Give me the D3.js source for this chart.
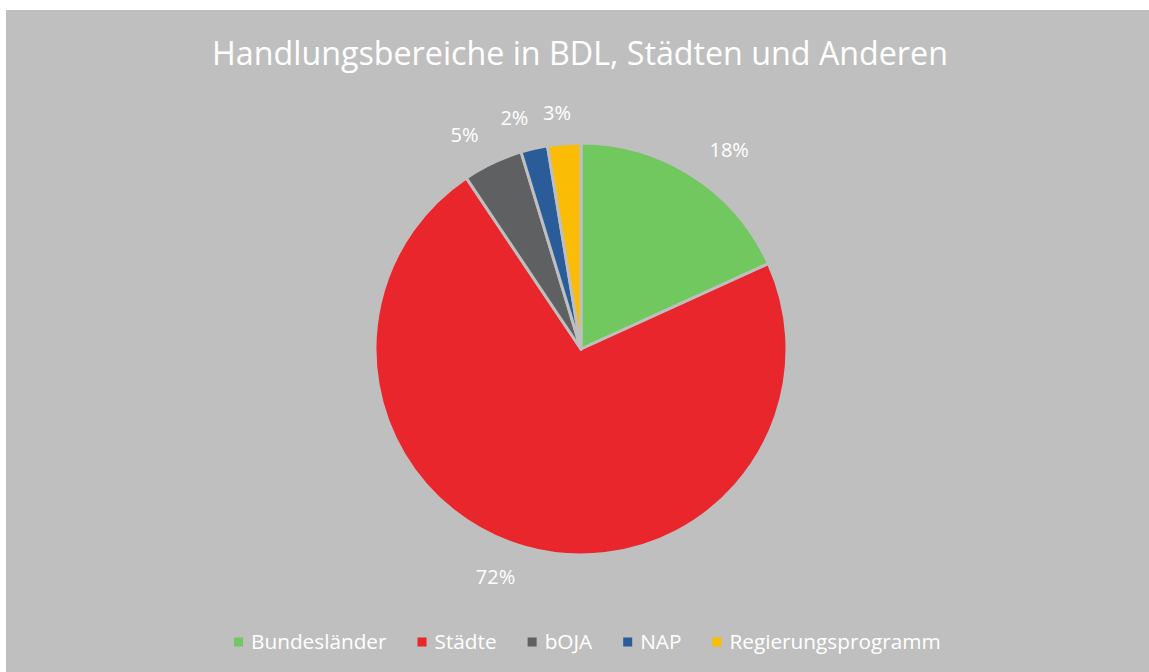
<!DOCTYPE html>
<html>
<head>
<meta charset="utf-8">
<script src="https://cdn.jsdelivr.net/npm/d3@7"></script>
<style>
  html, body { margin: 0; padding: 0; background: #ffffff; }
  svg { display: block; }
  text { font-family: "Open Sans", "Noto Sans", sans-serif; fill: #ffffff; }
</style>
</head>
<body>
<svg id="chart" width="1149" height="672"></svg>
<script>
// Data
const title = 'Handlungsbereiche in BDL, Städten und Anderen'
const categories = ['Bundesländer', 'Städte', 'bOJA', 'NAP', 'Regierungsprogramm']
const values = [18.2, 72.4, 4.7, 2.1, 2.6]
const labels = ['18%', '72%', '5%', '2%', '3%']
const colors = ['#70c85e', '#e8262c', '#5f6062', '#2a5c99', '#fbbc05']

const svg = d3.select('#chart')
const width = 1149
const height = 672
const bg = '#bfbfbf'

svg.append('rect')
    .attr('x', 6).attr('y', 10)
    .attr('width', width - 6).attr('height', height - 10)
    .attr('fill', bg)

// fit a text node to a target width by adjusting font-size
const fitText = (sel, targetWidth) => {
    const w = sel.node().getComputedTextLength()
    const fs = parseFloat(sel.attr('font-size'))
    sel.attr('font-size', fs * targetWidth / w)
}

// Title
const titleText = svg.append('text')
    .attr('x', 580).attr('y', 65)
    .attr('text-anchor', 'middle')
    .attr('font-size', 32)
    .text(title)
fitText(titleText, 736)

// Pie
const cx = 581, cy = 349, radius = 206
const pie = d3.pie().sort(null).value(d => d)
const arcs = pie(values)
const arc = d3.arc().innerRadius(0).outerRadius(radius)
const labelArc = d3.arc().innerRadius(230).outerRadius(230)

const g = svg.append('g').attr('transform', `translate(${cx},${cy})`)

g.selectAll('path.slice')
    .data(arcs)
    .join('path')
    .classed('slice', true)
    .attr('d', arc)
    .attr('fill', (_, i) => colors[i])
    .attr('stroke', bg)
    .attr('stroke-width', 3)
    .attr('stroke-linejoin', 'round')

// outside labels, pushed away from the pie like Excel's best fit
g.selectAll('text.label')
    .data(arcs)
    .join('text')
    .classed('label', true)
    .attr('text-anchor', 'middle')
    .attr('dy', '0.35em')
    .attr('font-size', 20)
    .text((_, i) => labels[i])
    .attr('transform', function(d) {
        const [x, y] = labelArc.centroid(d)
        const a = (d.startAngle + d.endAngle) / 2
        const w = this.getComputedTextLength()
        const s = Math.sin(a)
        const dx = (w / 2 + 4) * Math.sign(s) * Math.min(1, Math.abs(s) * 3.5)
        const dy = -Math.cos(a) * 7
        return `translate(${x + dx},${y + dy})`
    })

// Legend
const legend = svg.append('g').attr('transform', 'translate(0,642)')
const swatch = 9, swatchGap = 17, itemGap = 31
let fontSize = 19
const items = legend.selectAll('g.item')
    .data(categories)
    .join('g')
    .classed('item', true)
items.append('rect')
    .attr('y', -swatch / 2).attr('width', swatch).attr('height', swatch)
    .attr('fill', (_, i) => colors[i])
items.append('text')
    .attr('x', swatchGap)
    .attr('dy', '0.35em')
    .attr('font-size', fontSize)
    .text(d => d)

const layout = () => {
    let x = 0
    const pos = []
    items.each(function() {
        pos.push(x)
        const tw = d3.select(this).select('text').node().getComputedTextLength()
        x += swatchGap + tw + itemGap
    })
    return { pos, total: x - itemGap }
}
const fixed = categories.length * swatchGap + (categories.length - 1) * itemGap
let { total } = layout()
fontSize = fontSize * (707 - fixed) / (total - fixed)
items.select('text').attr('font-size', fontSize)
const res = layout()
const startX = 234
items.attr('transform', (_, i) => `translate(${startX + res.pos[i]},0)`)
</script>
</body>
</html>
